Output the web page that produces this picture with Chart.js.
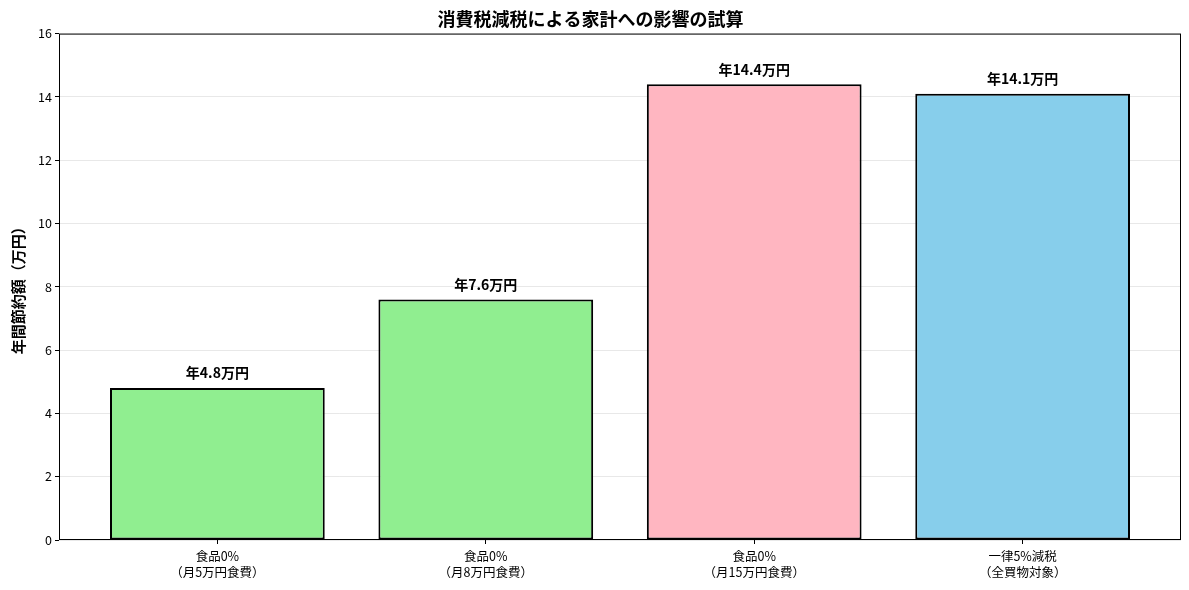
<!DOCTYPE html>
<html>
<head>
<meta charset="utf-8">
<script src="https://cdn.jsdelivr.net/npm/chart.js@4/dist/chart.umd.min.js"></script>
<style>
  html, body { margin: 0; padding: 0; background: #fff; }
  #wrap { width: 1189px; height: 590px; }
</style>
</head>
<body>
<div id="wrap"><canvas id="chart"></canvas></div>
<script>
// data
var categories = [
  ["食品0%", "（月5万円食費）"],
  ["食品0%", "（月8万円食費）"],
  ["食品0%", "（月15万円食費）"],
  ["一律5%減税", "（全買物対象）"]
];
var savings = [4.8, 7.6, 14.4, 14.1];
var barColors = ["#90EE90", "#90EE90", "#FFB6C1", "#87CEEB"];
var yTicks = [0, 2, 4, 6, 8, 10, 12, 14, 16];

var FONT = "'Noto Sans CJK JP', 'Noto Sans', sans-serif";

// full frame around the plot area, like matplotlib spines
var frame = {
  id: "frame",
  afterDraw: function(chart){
    var a = chart.chartArea, c = chart.ctx;
    c.save();
    c.strokeStyle = "#000";
    c.lineWidth = 1;
    c.strokeRect(a.left + 0.5, a.top + 0.5, a.right - a.left - 1, a.bottom - a.top - 1);
    c.restore();
  }
};

// value labels above each bar
var barLabels = {
  id: "barLabels",
  afterDatasetsDraw: function(chart){
    var c = chart.ctx;
    var meta = chart.getDatasetMeta(0);
    c.save();
    c.font = "bold 14px " + FONT;
    c.fillStyle = "#000";
    c.textAlign = "center";
    c.textBaseline = "bottom";
    meta.data.forEach(function(bar, i){
      c.fillText("年" + savings[i] + "万円", bar.x, bar.y - 8);
    });
    c.restore();
  }
};

var ctx = document.getElementById("chart");

new Chart(ctx, {
  type: "bar",
  data: {
    datasets: [{
      data: savings.map(function(v, i){ return { x: i, y: v }; }),
      backgroundColor: barColors,
      borderColor: "#000",
      borderWidth: 2,
      borderSkipped: false,
      barPercentage: 0.8,
      categoryPercentage: 1.0
    }]
  },
  options: {
    responsive: true,
    maintainAspectRatio: false,
    animation: false,
    layout: { padding: { left: 0, right: 8, top: 0, bottom: 0 } },
    plugins: {
      legend: { display: false },
      tooltip: { enabled: false },
      title: {
        display: true,
        text: "消費税減税による家計への影響の試算",
        color: "#000",
        font: { family: FONT, size: 18, weight: "bold" },
        padding: { top: 8, bottom: 4 }
      }
    },
    scales: {
      x: {
        type: "linear",
        min: -0.59,
        max: 3.59,
        offset: false,
        border: { display: false },
        grid: { offset: false, drawOnChartArea: false, color: "#000", tickLength: 4 },
        afterBuildTicks: function(s){
          s.ticks = categories.map(function(c, i){ return { value: i }; });
        },
        ticks: {
          color: "#000",
          font: { family: FONT, size: 12.5, lineHeight: 1.3 },
          padding: 4,
          maxRotation: 0,
          autoSkip: false,
          callback: function(v){ return categories[v]; }
        },
        afterFit: function(s){ s.height = 50; }
      },
      y: {
        min: 0,
        max: 16,
        border: { display: false },
        grid: { color: "rgba(0,0,0,0.09)", tickColor: "#000", tickLength: 4 },
        afterBuildTicks: function(s){
          s.ticks = yTicks.map(function(v){ return { value: v }; });
        },
        ticks: {
          color: "#000",
          font: { family: FONT, size: 12.5 },
          padding: 3
        },
        title: {
          display: true,
          text: "年間節約額（万円）",
          color: "#000",
          font: { family: FONT, size: 15, weight: "bold" },
          padding: { top: 9, bottom: 0 }
        },
        afterFit: function(s){ s.width = 59; }
      }
    }
  },
  plugins: [frame, barLabels]
});
</script>
</body>
</html>
